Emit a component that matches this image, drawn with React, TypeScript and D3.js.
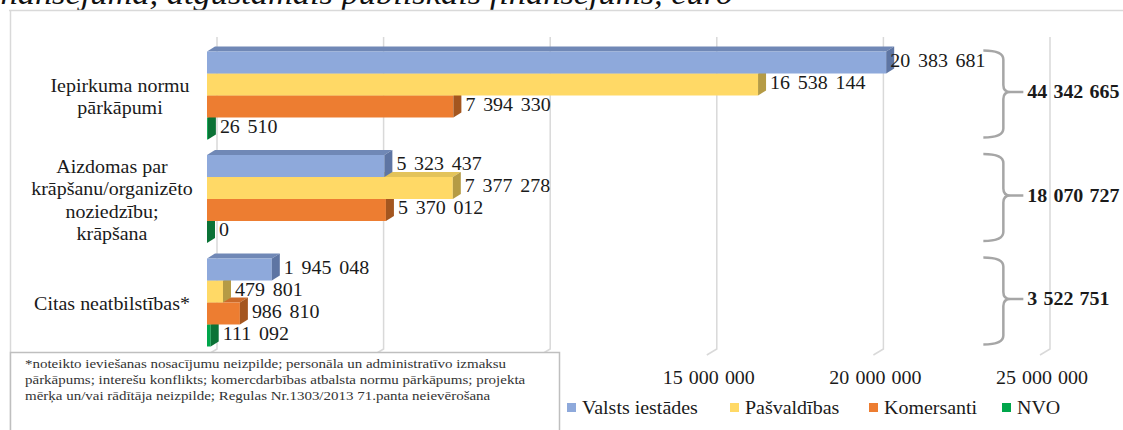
import React from "react";
import * as d3 from "d3";

const categories = ["Iepirkuma normu pārkāpumi", "Aizdomas par krāpšanu/organizēto noziedzību; krāpšana", "Citas neatbilstības*"];
const categoryLines = [["Iepirkuma normu", "pārkāpumi"], ["Aizdomas par", "krāpšanu/organizēto", "noziedzību;", "krāpšana"], ["Citas neatbilstības*"]];
const series = ["Valsts iestādes", "Pašvaldības", "Komersanti", "NVO"];
const valstsIestades = [20383681, 5323437, 1945048];
const pasvaldibas = [16538144, 7377278, 479801];
const komersanti = [7394330, 5370012, 986810];
const nvo = [26510, 0, 111092];
const seriesValues = [valstsIestades, pasvaldibas, komersanti, nvo];
const ticks = [0, 5000000, 10000000, 15000000, 20000000, 25000000];
const labelledTicks = [15000000, 20000000, 25000000];
const titleText = "Neatbilstību ietekme uz kopējā finansējuma, atgūstamais publiskais finansējums, euro";
const footnote = [
  "*noteikto ieviešanas nosacījumu neizpilde; personāla un  administratīvo izmaksu",
  "pārkāpums;  interešu konflikts; komercdarbības atbalsta normu pārkāpums;  projekta",
  "mērķa un/vai  rādītāja neizpilde; Regulas Nr.1303/2013 71.panta neievērošana",
];

const colors = [
  { front: "#8EA9DB", top: "#7088B6", side: "#5E75A3" },
  { front: "#FFD966", top: "#E3C35A", side: "#B59B45" },
  { front: "#ED7D31", top: "#CC6A29", side: "#A4561F" },
  { front: "#00A64B", top: "#00903F", side: "#0B7236" },
];

const W = 1123, H = 430;
const SERIF = "Liberation Serif, Tinos, Times New Roman, DejaVu Serif, serif";
const SX = 1.11;
const DX = 8, DY = 5;
const GDX = 10, GDY = 6;
const legendX = [567, 730, 869, 1002];

const fmt = (v: number) => d3.format(",")(v).replace(/,/g, " ");

function T({ x, y, children, anchor = "start", size = 18, weight = "normal", italic = false, fill = "#1a1a1a", ws = 0 }: any) {
  return (
    <text
      transform={`translate(${x},${y}) scale(${SX},1)`}
      textAnchor={anchor}
      dominantBaseline="central"
      fill={fill}
      style={{ fontFamily: SERIF, fontSize: size, fontWeight: weight, fontStyle: italic ? "italic" : "normal", wordSpacing: ws }}
    >
      {children}
    </text>
  );
}

export default function App() {
  const x = d3.scaleLinear().domain([0, 25000000]).range([207, 1040]);
  const y = d3.scaleBand<string>().domain(categories).range([43.75, 354.25]).paddingInner(0.15).paddingOuter(0.075);
  const sub = d3.scaleBand<string>().domain(series).range([0, y.bandwidth()]);
  const totals = categories.map((_, i) => d3.sum(seriesValues, (s) => s[i]));
  const braceEnd = x(23.3e6), braceSpine = x(23.9e6), braceTip = x(24.5e6);

  const bars: any[] = [];
  categories.forEach((c, ci) => {
    for (let si = series.length - 1; si >= 0; si--) {
      const v = seriesValues[si][ci];
      const x0 = x(0), x1 = x(v);
      const y0 = (y(c) as number) + (sub(series[si]) as number);
      const y1 = y0 + sub.bandwidth();
      const col = colors[si];
      bars.push(
        <g key={`${ci}-${si}`}>
          <polygon points={`${x0},${y0} ${x0 + DX},${y0 - DY} ${x1 + DX},${y0 - DY} ${x1},${y0}`} fill={col.top} />
          <rect x={x0} y={y0} width={Math.max(0, x1 - x0)} height={y1 - y0} fill={col.front} />
          <polygon points={`${x1},${y0} ${x1 + DX},${y0 - DY} ${x1 + DX},${y1 - DY} ${x1},${y1}`} fill={col.side} />
        </g>
      );
    }
  });

  const labels: any[] = [];
  categories.forEach((c, ci) => {
    series.forEach((s, si) => {
      const v = seriesValues[si][ci];
      const y0 = (y(c) as number) + (sub(s) as number);
      const y1 = y0 + sub.bandwidth();
      const lx = x(v) + 12 > x(20e6) ? x(v) + 4 : x(v) + 12;
      labels.push(
        <T key={`l${ci}-${si}`} x={lx} y={(y0 - DY + y1) / 2 + 0.5} ws={2.5}>
          {fmt(v)}
        </T>
      );
    });
  });

  return (
    <svg width={W} height={H} style={{ position: "absolute", left: 0, top: 0, background: "#fff" }}>
      <rect x={0} y={0} width={W} height={H} fill="#fff" />
      <T x={733} y={-6} anchor="end" size={31} italic fill="#111">
        {titleText}
      </T>
      <line x1={9} x2={W} y1={10.5} y2={10.5} stroke="#D9D9D9" strokeWidth={1.5} />
      <line x1={10.5} x2={10.5} y1={10} y2={H} stroke="#D9D9D9" strokeWidth={1.5} />

      {ticks.map((t) => (
        <path key={t} d={`M${x(t) + GDX},37 L${x(t) + GDX},349 L${x(t)},${349 + GDY}`} fill="none" stroke="#D9D9D9" strokeWidth={1.5} />
      ))}
      {labelledTicks.map((t) => (
        <T key={`t${t}`} x={x(t) + 2} y={378} anchor="middle" ws={1}>
          {fmt(t)}
        </T>
      ))}

      {bars}
      {labels}

      {categories.map((c, ci) => {
        const lines = categoryLines[ci];
        const cy = (y(c) as number) + y.bandwidth() / 2 + 1.5;
        return lines.map((ln, li) => (
          <T key={`c${ci}-${li}`} x={ci === 0 ? 120 : 112} y={cy + (li - (lines.length - 1) / 2) * 22.5} anchor="middle">
            {ln}
          </T>
        ));
      })}

      {categories.map((c, ci) => {
        const top = (y(c) as number) - 1;
        const bot = (y(c) as number) + y.bandwidth() - 2;
        const mid = (top + bot) / 2 - 2;
        const d = `M${braceEnd},${top} Q${braceSpine},${top} ${braceSpine},${top + 9} L${braceSpine},${mid - 7} Q${braceSpine},${mid} ${braceSpine + 7},${mid} L${braceTip},${mid} M${braceSpine + 7},${mid} Q${braceSpine},${mid} ${braceSpine},${mid + 7} L${braceSpine},${bot - 9} Q${braceSpine},${bot} ${braceEnd},${bot}`;
        return (
          <g key={`b${ci}`}>
            <path d={d} fill="none" stroke="#A6A6A6" strokeWidth={2.5} />
            <T x={braceTip + 4} y={mid} weight="bold" ws={1}>
              {fmt(totals[ci])}
            </T>
          </g>
        );
      })}

      <rect x={10.5} y={352.5} width={549} height={100} fill="#fff" stroke="#BFBFBF" strokeWidth={1.5} />
      {footnote.map((f, i) => (
        <T key={`f${i}`} x={25} y={363 + i * 16} size={13.5} fill="#333">
          {f}
        </T>
      ))}

      {series.map((s, si) => (
        <g key={`lg${si}`}>
          <rect x={legendX[si]} y={403} width={9} height={9} fill={colors[si].front} />
          <T x={legendX[si] + 15} y={408}>
            {s}
          </T>
        </g>
      ))}
    </svg>
  );
}
